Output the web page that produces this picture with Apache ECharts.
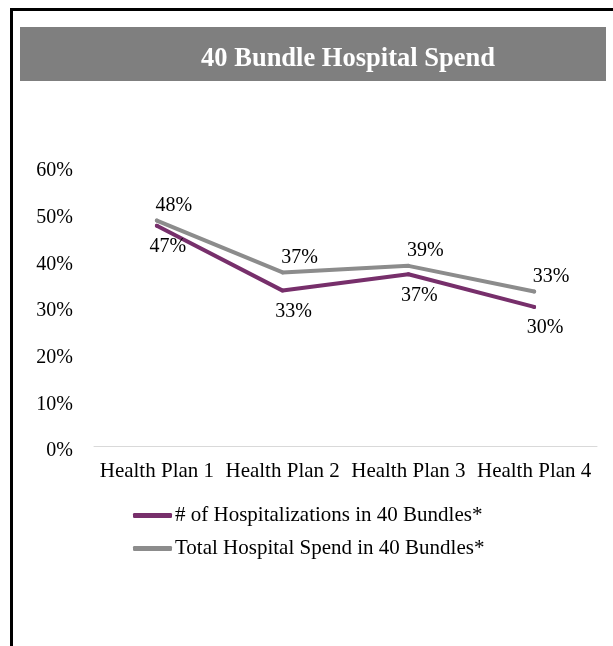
<!DOCTYPE html>
<html>
<head>
<meta charset="utf-8">
<script src="https://cdn.jsdelivr.net/npm/echarts@6/dist/echarts.min.js"></script>
<style>
html,body{margin:0;padding:0;background:#fff;}
#chart{width:613px;height:646px;}
</style>
</head>
<body>
<div id="chart"></div>
<script>
var titleText = '40 Bundle Hospital Spend';
var categories = ['Health Plan 1', 'Health Plan 2', 'Health Plan 3', 'Health Plan 4'];
var seriesNames = ['# of Hospitalizations in 40 Bundles*', 'Total Hospital Spend in 40 Bundles*'];
var hospitalizations = [0.472, 0.333, 0.368, 0.298];
var totalSpend = [0.483, 0.372, 0.386, 0.331];
var yTicks = [0, 0.1, 0.2, 0.3, 0.4, 0.5, 0.6];

var FONT = '"Liberation Serif", "Times New Roman", serif';
var PURPLE = '#772F6B';
var GRAY = '#8C8C8C';
var pct = function (v) { return Math.round(v * 100) + '%'; };

var chart = echarts.init(document.getElementById('chart'), null, {renderer: 'canvas'});
chart.setOption({
  backgroundColor: '#fff',
  animation: false,
  graphic: [
    {type: 'rect', shape: {x: 11.5, y: 9.5, width: 800, height: 800},
     style: {fill: 'none', stroke: '#000', lineWidth: 3}, z: 10},
    {type: 'rect', shape: {x: 20, y: 27, width: 586, height: 54},
     style: {fill: '#7F7F7F'}, z: 0}
  ],
  title: {
    text: titleText,
    left: 343, top: 54, textAlign: 'center', textVerticalAlign: 'middle',
    textStyle: {color: '#fff', fontFamily: FONT, fontWeight: 'bold', fontSize: 26.5},
    z: 5
  },
  legend: {
    orient: 'vertical',
    left: 128, top: 500,
    itemWidth: 39, itemHeight: 5, itemGap: 12,
    icon: 'roundRect',
    lineStyle: {width: 4, cap: 'round'},
    textStyle: {fontFamily: FONT, fontSize: 21, color: '#000', padding: [0, 0, 0, -2]},
    data: seriesNames
  },
  grid: {left: 94, right: 16, top: 166, bottom: 200, containLabel: false},
  xAxis: {
    type: 'category', data: categories,
    axisLine: {lineStyle: {color: '#D9D9D9', width: 1}},
    axisTick: {show: false},
    axisLabel: {fontFamily: FONT, fontSize: 21, color: '#000', margin: 15, interval: 0}
  },
  yAxis: {
    type: 'value', min: yTicks[0], max: yTicks[yTicks.length - 1], interval: 0.1,
    axisLine: {show: false}, axisTick: {show: false}, splitLine: {show: false},
    axisLabel: {fontFamily: FONT, fontSize: 20, color: '#000', margin: 21,
                verticalAlign: 'top', lineHeight: 20, padding: [-5, 0, 0, 0], formatter: pct}
  },
  series: [
    {
      name: seriesNames[0], type: 'line', data: hospitalizations,
      symbol: 'circle', symbolSize: 4, showSymbol: true,
      lineStyle: {color: PURPLE, width: 4, cap: 'round'},
      itemStyle: {color: PURPLE},
      label: {show: true, position: 'bottom', distance: 5, offset: [11, 4],
              fontFamily: FONT, fontSize: 20, color: '#000',
              formatter: function (p) { return pct(p.value); }},
      emphasis: {disabled: true},
      z: 3
    },
    {
      name: seriesNames[1], type: 'line', data: totalSpend,
      symbol: 'circle', symbolSize: 4, showSymbol: true,
      lineStyle: {color: GRAY, width: 4, cap: 'round'},
      itemStyle: {color: GRAY},
      label: {show: true, position: 'top', distance: 3, offset: [17, 0],
              fontFamily: FONT, fontSize: 20, color: '#000',
              formatter: function (p) { return pct(p.value); }},
      emphasis: {disabled: true},
      z: 2
    }
  ]
});
</script>
</body>
</html>
